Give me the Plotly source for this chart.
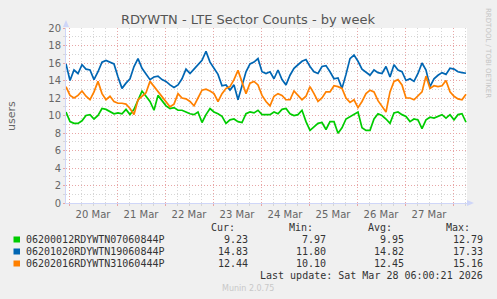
import plotly.graph_objects as go
import pandas as pd

# values, one sample every 2 hours
start_time = "2026-03-19 22:30"
step_hours = 2

green_vals = [10.4, 9.3, 9.1, 9.1, 9.4, 10.0, 10.1, 9.6, 10.0, 10.8,
              10.7, 10.4, 10.2, 10.3, 10.2, 10.7, 10.1, 10.7, 11.8, 12.79,
              12.2, 11.6, 10.6, 12.3, 11.7, 11.1, 10.8, 10.9, 10.6, 10.6,
              10.4, 10.2, 10.1, 10.4, 9.2, 10.1, 10.8, 10.4, 10.2, 9.9,
              9.1, 9.5, 9.6, 9.3, 9.2, 10.2, 10.4, 10.3, 10.6, 10.1,
              10.1, 10.1, 10.4, 10.2, 10.7, 10.8, 10.2, 10.0, 10.1, 10.6,
              9.3, 8.3, 8.7, 9.1, 9.2, 8.4, 9.3, 9.3, 7.97, 8.6,
              9.6, 9.9, 10.1, 10.4, 8.6, 8.3, 8.3, 9.6, 10.2, 10.0,
              9.6, 9.1, 10.3, 10.4, 10.1, 9.9, 9.3, 9.6, 9.5, 8.5,
              9.5, 9.8, 9.7, 9.9, 10.1, 9.7, 10.1, 9.5, 10.1, 10.2, 9.23]

blue_vals = [15.9, 14.0, 15.2, 14.8, 15.8, 15.3, 15.2, 14.1, 15.0, 16.1,
             16.3, 16.1, 15.9, 14.4, 13.1, 13.7, 14.2, 15.6, 16.5, 15.4,
             14.8, 14.1, 14.4, 14.5, 14.1, 13.9, 13.5, 13.2, 13.5, 14.2,
             15.3, 14.8, 15.3, 15.8, 16.3, 17.33, 16.1, 15.4, 14.7, 13.4,
             13.5, 12.9, 13.5, 11.8, 13.5, 15.0, 15.9, 16.1, 16.5, 15.0,
             14.8, 15.0, 14.2, 15.2, 14.1, 13.5, 14.6, 15.4, 15.8, 16.2,
             16.4, 15.6, 15.0, 14.8, 15.6, 15.7, 15.0, 14.2, 14.3, 13.1,
             14.7, 16.5, 16.9, 16.2, 15.3, 15.0, 14.6, 15.2, 14.9, 14.8,
             15.6, 14.4, 15.8, 15.2, 15.0, 14.0, 14.2, 13.9, 14.8, 16.0,
             15.2, 13.3, 14.2, 14.6, 14.9, 14.7, 15.4, 15.3, 15.0, 14.9, 14.83]

orange_vals = [13.3, 12.3, 12.0, 12.3, 12.8, 12.2, 11.8, 12.7, 13.9, 12.5,
               11.8, 12.2, 11.6, 11.4, 11.4, 11.3, 10.8, 10.1, 11.8, 12.2,
               12.6, 13.9, 13.3, 12.7, 12.1, 11.5, 11.0, 11.3, 12.5, 12.0,
               11.9, 11.6, 11.1, 12.0, 12.9, 13.0, 12.8, 12.5, 11.6, 12.5,
               13.1, 13.3, 14.1, 15.16, 13.9, 12.5, 13.7, 13.9, 13.5, 12.3,
               11.6, 11.1, 12.2, 12.5, 12.3, 11.8, 11.8, 12.8, 12.3, 11.8,
               12.2, 13.3, 12.5, 11.6, 12.0, 12.7, 12.7, 13.4, 13.3, 13.1,
               12.0, 11.5, 11.8, 10.9, 11.6, 12.5, 12.9, 12.7, 11.7, 11.1,
               10.4, 12.7, 13.9, 14.1, 13.5, 12.0, 12.0, 11.8, 12.2, 12.7,
               14.5, 13.1, 13.4, 13.3, 13.4, 14.0, 12.7, 12.2, 11.9, 11.8, 12.44]

series_names = ["06200012RDYWTN07060844P", "06201020RDYWTN19060844P", "06202016RDYWTN31060444P"]
series_colors = ["#00CC00", "#0066B3", "#FF8000"]
cur_vals = ["9.23", "14.83", "12.44"]
min_vals = ["7.97", "11.80", "10.10"]
avg_vals = ["9.95", "14.82", "12.45"]
max_vals = ["12.79", "17.33", "15.16"]

times = pd.date_range(start_time, periods=len(green_vals), freq=f"{step_hours}h")

W, H = 497, 299
L, R, T, B = 66, 30, 28, 96
pw, ph = W - L - R, H - T - B


def px(x):
    return (x - L) / pw


def py(y):
    return (H - B - y) / ph


fig = go.Figure()
for name, vals, col in zip(series_names, [green_vals, blue_vals, orange_vals], series_colors):
    fig.add_trace(go.Scatter(x=times, y=vals, mode="lines", name=name,
                             line=dict(color=col, width=1.7), showlegend=False))

red_grid = "#e8a6a6"
gray_grid = "#d6d6d6"
font_col = "#666666"
axis_col = "#CFD6F8"

fig.update_xaxes(
    range=["2026-03-19 22:30", "2026-03-28 07:00"],
    dtick=86400000, tick0="2026-03-20", tickformat="%d %b", ticklabelmode="period",
    showgrid=True, gridcolor=red_grid, griddash="1px,2px", gridwidth=1,
    ticks="outside", ticklen=2, tickcolor=red_grid,
    minor=dict(dtick=6 * 3600000, tick0="2026-03-20", showgrid=True, gridcolor=gray_grid,
               griddash="1px,2px", ticks="outside", ticklen=2, tickcolor=gray_grid),
    showline=True, linecolor=axis_col, linewidth=1,
    tickfont=dict(family="DejaVu Sans", size=10, color=font_col),
    zeroline=False,
)
fig.update_yaxes(
    range=[0, 20], dtick=2,
    showgrid=True, gridcolor=red_grid, griddash="1px,2px", gridwidth=1,
    ticks="outside", ticklen=2, tickcolor=red_grid,
    minor=dict(dtick=1, showgrid=True, gridcolor=gray_grid, griddash="1px,2px",
               ticks="outside", ticklen=2, tickcolor=gray_grid),
    showline=True, linecolor=axis_col, linewidth=1,
    tickfont=dict(family="DejaVu Sans", size=10, color=font_col),
    zeroline=False,
)

ann = []
ann.append(dict(text="RDYWTN - LTE Sector Counts - by week", x=px(248), y=py(19),
                font=dict(family="DejaVu Sans", size=13, color="#555555")))
ann.append(dict(text="users", x=px(11), y=py(116), textangle=-90,
                font=dict(family="DejaVu Sans", size=11, color=font_col)))
ann.append(dict(text="RRDTOOL / TOBI OETIKER", x=px(488), y=py(53), textangle=90,
                font=dict(family="DejaVu Sans", size=7, color="#c4c4c4")))

mono = dict(family="DejaVu Sans Mono", size=10, color="#333333")
for lbl, xr in zip(["Cur:", "Min:", "Avg:", "Max:"], [235, 313, 392, 470]):
    ann.append(dict(text=lbl, x=px(xr + 1), y=py(227.5), xanchor="right", font=mono))

row_y = [239.5, 251.5, 263.5]
shapes = []
for i in range(3):
    ann.append(dict(text=series_names[i], x=px(25), y=py(row_y[i]), xanchor="left", font=mono))
    for vals, xr in zip([cur_vals, min_vals, avg_vals, max_vals], [248, 326, 404, 483]):
        ann.append(dict(text=vals[i], x=px(xr + 1), y=py(row_y[i]), xanchor="right", font=mono))
    shapes.append(dict(type="rect", xref="paper", yref="paper",
                       x0=px(13.5), x1=px(20), y0=py(row_y[i] + 3), y1=py(row_y[i] - 3),
                       fillcolor=series_colors[i], line=dict(width=0)))

ann.append(dict(text="Last update: Sat Mar 28 06:00:21 2026", x=px(484), y=py(275.5),
                xanchor="right", font=mono))
ann.append(dict(text="Munin 2.0.75", x=px(248), y=py(288),
                font=dict(family="DejaVu Sans", size=8, color="#c8c8c8")))

for a in ann:
    a.setdefault("xanchor", "center")
    a.update(xref="paper", yref="paper", yanchor="middle", showarrow=False, borderpad=0)

# axis arrows
shapes.append(dict(type="path", xref="paper", yref="paper",
                   path=f"M {px(63)} {py(27)} L {px(69)} {py(27)} L {px(66)} {py(20)} Z",
                   fillcolor=axis_col, line=dict(width=0)))
shapes.append(dict(type="path", xref="paper", yref="paper",
                   path=f"M {px(467)} {py(200)} L {px(467)} {py(206)} L {px(474)} {py(203)} Z",
                   fillcolor=axis_col, line=dict(width=0)))
shapes.append(dict(type="line", xref="paper", yref="paper",
                   x0=px(467), x1=px(470), y0=py(203), y1=py(203),
                   line=dict(color=axis_col, width=1)))

fig.update_layout(
    width=W, height=H,
    margin=dict(l=L, r=R, t=T, b=B, pad=0),
    paper_bgcolor="#F0F0F0", plot_bgcolor="#FFFFFF",
    annotations=ann, shapes=shapes,
    showlegend=False,
)

fig.write_html("out.html", config={"displayModeBar": False},
               post_script="document.body.style.margin='0px';")
